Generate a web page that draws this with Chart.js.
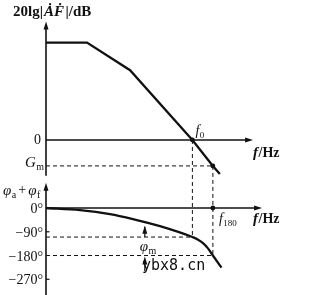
<!DOCTYPE html>
<html>
<head>
<meta charset="utf-8">
<script src="https://cdn.jsdelivr.net/npm/chart.js@4.4.1/dist/chart.umd.min.js"></script>
<style>
  html, body { margin: 0; padding: 0; background: #fff; }
  canvas { display: block; }
</style>
</head>
<body>
<canvas id="bode" width="321" height="295"></canvas>
<script>
// x = log frequency, in decades from the axis origin
const magFreq = [0, 1, 2.05, 3.57, 4.07, 4.24];
const magDb = [60, 60, 43, 0, -16, -21];
const phaseFreq = [0, 0.83, 1.56, 2.12, 2.78, 3.57, 3.7, 3.83, 3.95, 4.07, 4.28];
const phaseDeg = [0, -8, -23, -42, -69, -110, -119, -133, -153, -180, -226];
const phaseTicks = [0, -90, -180, -270];

const f0 = 3.57;        // unity gain frequency
const f180 = 4.07;      // phase = -180
const gm = -16;         // gain margin (dB)
const phaseAtF0 = -110;
const marginX = 2.41;   // where the phi_m arrows sit

const serif = '"Liberation Serif", "DejaVu Serif", serif';

// small drawing helpers
const arrowHead = (ctx, x, y, dir) => {
  ctx.beginPath();
  if (dir === "up") {
    ctx.moveTo(x, y); ctx.lineTo(x - 2.5, y + 8); ctx.lineTo(x + 2.5, y + 8);
  } else if (dir === "down") {
    ctx.moveTo(x, y); ctx.lineTo(x - 2.5, y - 8); ctx.lineTo(x + 2.5, y - 8);
  } else {
    ctx.moveTo(x, y); ctx.lineTo(x - 8, y - 2.5); ctx.lineTo(x - 8, y + 2.5);
  }
  ctx.closePath();
  ctx.fill();
};

const line = (ctx, x1, y1, x2, y2, width, dash) => {
  ctx.save();
  ctx.lineWidth = width;
  ctx.setLineDash(dash || []);
  ctx.beginPath();
  ctx.moveTo(x1, y1);
  ctx.lineTo(x2, y2);
  ctx.stroke();
  ctx.restore();
};

// italic symbol with a small upright subscript, left aligned, vertically centred at y
const symbol = (ctx, x, y, main, sub, size) => {
  ctx.save();
  ctx.textBaseline = "middle";
  ctx.textAlign = "left";
  ctx.font = `italic ${size}px ${serif}`;
  ctx.fillText(main, x, y);
  const w = ctx.measureText(main).width;
  ctx.font = `${Math.round(size * 0.64)}px ${serif}`;
  ctx.fillText(sub, x + w + 0.5, y + size * 0.3);
  const w2 = ctx.measureText(sub).width;
  ctx.restore();
  return w + w2 + 0.5;
};

const bodePlugin = {
  id: "bodeDecor",
  beforeDatasetsDraw(chart) {
    const ctx = chart.ctx;
    const X = (v) => chart.scales.x.getPixelForValue(v);
    const M = (v) => chart.scales.yMag.getPixelForValue(v);
    const P = (v) => chart.scales.yPh.getPixelForValue(v);
    ctx.save();
    ctx.strokeStyle = "#111";
    ctx.fillStyle = "#111";

    // magnitude axes
    line(ctx, X(0), M(-22), X(0), M(73) + 4, 1.6);
    arrowHead(ctx, X(0), M(73), "up");
    line(ctx, X(0), M(0), X(5.05) - 4, M(0), 1.4);
    arrowHead(ctx, X(5.05), M(0), "right");

    // phase axes
    line(ctx, X(0), chart.height, X(0), P(96) + 4, 1.6);
    arrowHead(ctx, X(0), P(96), "up");
    line(ctx, X(0), P(0), X(5.27) - 4, P(0), 1.4);
    arrowHead(ctx, X(5.27), P(0), "right");
    [-90, -270].forEach((t) => line(ctx, X(0), P(t), X(0) + 3.5, P(t), 1.2));

    // dashed guides
    const d = [4, 3];
    line(ctx, X(0), M(gm), X(f180), M(gm), 1, d);
    line(ctx, X(f0), M(0), X(f0), P(phaseAtF0), 1, d);
    line(ctx, X(f180), M(gm), X(f180), P(-180), 1, d);
    line(ctx, X(0), P(phaseAtF0), X(f0), P(phaseAtF0), 1, d);
    line(ctx, X(0), P(-180), X(f180), P(-180), 1, d);

    // phase margin arrows
    line(ctx, X(marginX), P(phaseAtF0), X(marginX), P(-60) + 3, 1.2);
    arrowHead(ctx, X(marginX), P(-60) + 2, "up");
    line(ctx, X(marginX), P(-240), X(marginX), P(-180) + 4, 1.2);
    arrowHead(ctx, X(marginX), P(-180) + 1, "up");
    ctx.restore();
  },
  afterDatasetsDraw(chart) {
    const ctx = chart.ctx;
    const X = (v) => chart.scales.x.getPixelForValue(v);
    const M = (v) => chart.scales.yMag.getPixelForValue(v);
    const P = (v) => chart.scales.yPh.getPixelForValue(v);
    ctx.save();
    ctx.fillStyle = "#111";

    // points on the guides
    [[X(f0), M(0)], [X(f180), M(gm)], [X(f180), P(0)]].forEach(([x, y]) => {
      ctx.beginPath();
      ctx.arc(x, y, 2.4, 0, Math.PI * 2);
      ctx.fill();
    });

    // axis titles
    ctx.textBaseline = "middle";
    ctx.textAlign = "left";
    ctx.font = `bold 15px ${serif}`;
    ctx.fillText("20lg|", 13, 12);
    let w = ctx.measureText("20lg|").width;
    ctx.font = `bold italic 15px ${serif}`;
    ctx.fillText("\u0226\u1E1E", 13 + w + 1, 12);
    w += ctx.measureText("\u0226\u1E1E").width + 1;
    ctx.font = `bold 15px ${serif}`;
    ctx.fillText("|/dB", 13 + w + 1.5, 12);

    let px = 3;
    px += symbol(ctx, px, 191, "\u03C6", "a", 15);
    ctx.font = `14px ${serif}`;
    ctx.fillText("+", px + 2, 190);
    px += ctx.measureText("+").width + 4;
    symbol(ctx, px, 191, "\u03C6", "f", 15);

    // frequency axis labels
    [M(0) + 13, P(0) + 11].forEach((y) => {
      ctx.font = `italic bold 15px ${serif}`;
      ctx.fillText("f", 253, y);
      const fw = ctx.measureText("f").width;
      ctx.font = `bold 14px ${serif}`;
      ctx.fillText("/Hz", 253 + fw + 0.5, y);
    });

    // magnitude ticks
    ctx.textAlign = "right";
    ctx.font = `14px ${serif}`;
    ctx.fillText("0", X(0) - 5, M(0));
    ctx.textAlign = "left";
    symbol(ctx, 25, M(gm) - 3, "G", "m", 15);

    // phase ticks
    ctx.textAlign = "right";
    ctx.font = `14px ${serif}`;
    phaseTicks.forEach((t) => {
      const label = (t < 0 ? "\u2212" + -t : String(t)) + "\u00B0";
      ctx.fillText(label, X(0) - 3, P(t) + 1.5);
    });

    // point labels
    symbol(ctx, X(f0) + 3, M(0) - 9, "f", "0", 14);
    symbol(ctx, X(f180) + 6, P(0) + 11, "f", "180", 14);
    symbol(ctx, X(marginX) - 5, P(phaseAtF0) + 10, "\u03C6", "m", 15);

    // site mark
    ctx.textAlign = "left";
    ctx.font = `15px "DejaVu Sans Mono", monospace`;
    ctx.fillText("ybx8.cn", 142, 266);
    ctx.restore();
  },
};

new Chart(document.getElementById("bode"), {
  type: "line",
  data: {
    datasets: [
      {
        label: "20lg|AF|",
        data: magFreq.map((f, i) => ({ x: f, y: magDb[i] })),
        yAxisID: "yMag",
        borderColor: "#111",
        borderWidth: 2.3,
        pointRadius: 0,
        tension: 0,
        clip: false,
      },
      {
        label: "phase",
        data: phaseFreq.map((f, i) => ({ x: f, y: phaseDeg[i] })),
        yAxisID: "yPh",
        borderColor: "#111",
        borderWidth: 2.3,
        pointRadius: 0,
        cubicInterpolationMode: "monotone",
        clip: false,
      },
    ],
  },
  options: {
    responsive: false,
    animation: false,
    devicePixelRatio: 1,
    layout: { padding: { left: 46, right: 0, top: 0, bottom: 0 } },
    plugins: { legend: { display: false }, tooltip: { enabled: false } },
    scales: {
      x: { type: "linear", min: 0, max: 6.707, display: false },
      yMag: { type: "linear", min: -95.6, max: 86.3, display: false },
      yPh: { type: "linear", min: -329.5, max: 787.9, display: false },
    },
  },
  plugins: [bodePlugin],
});
</script>
</body>
</html>
